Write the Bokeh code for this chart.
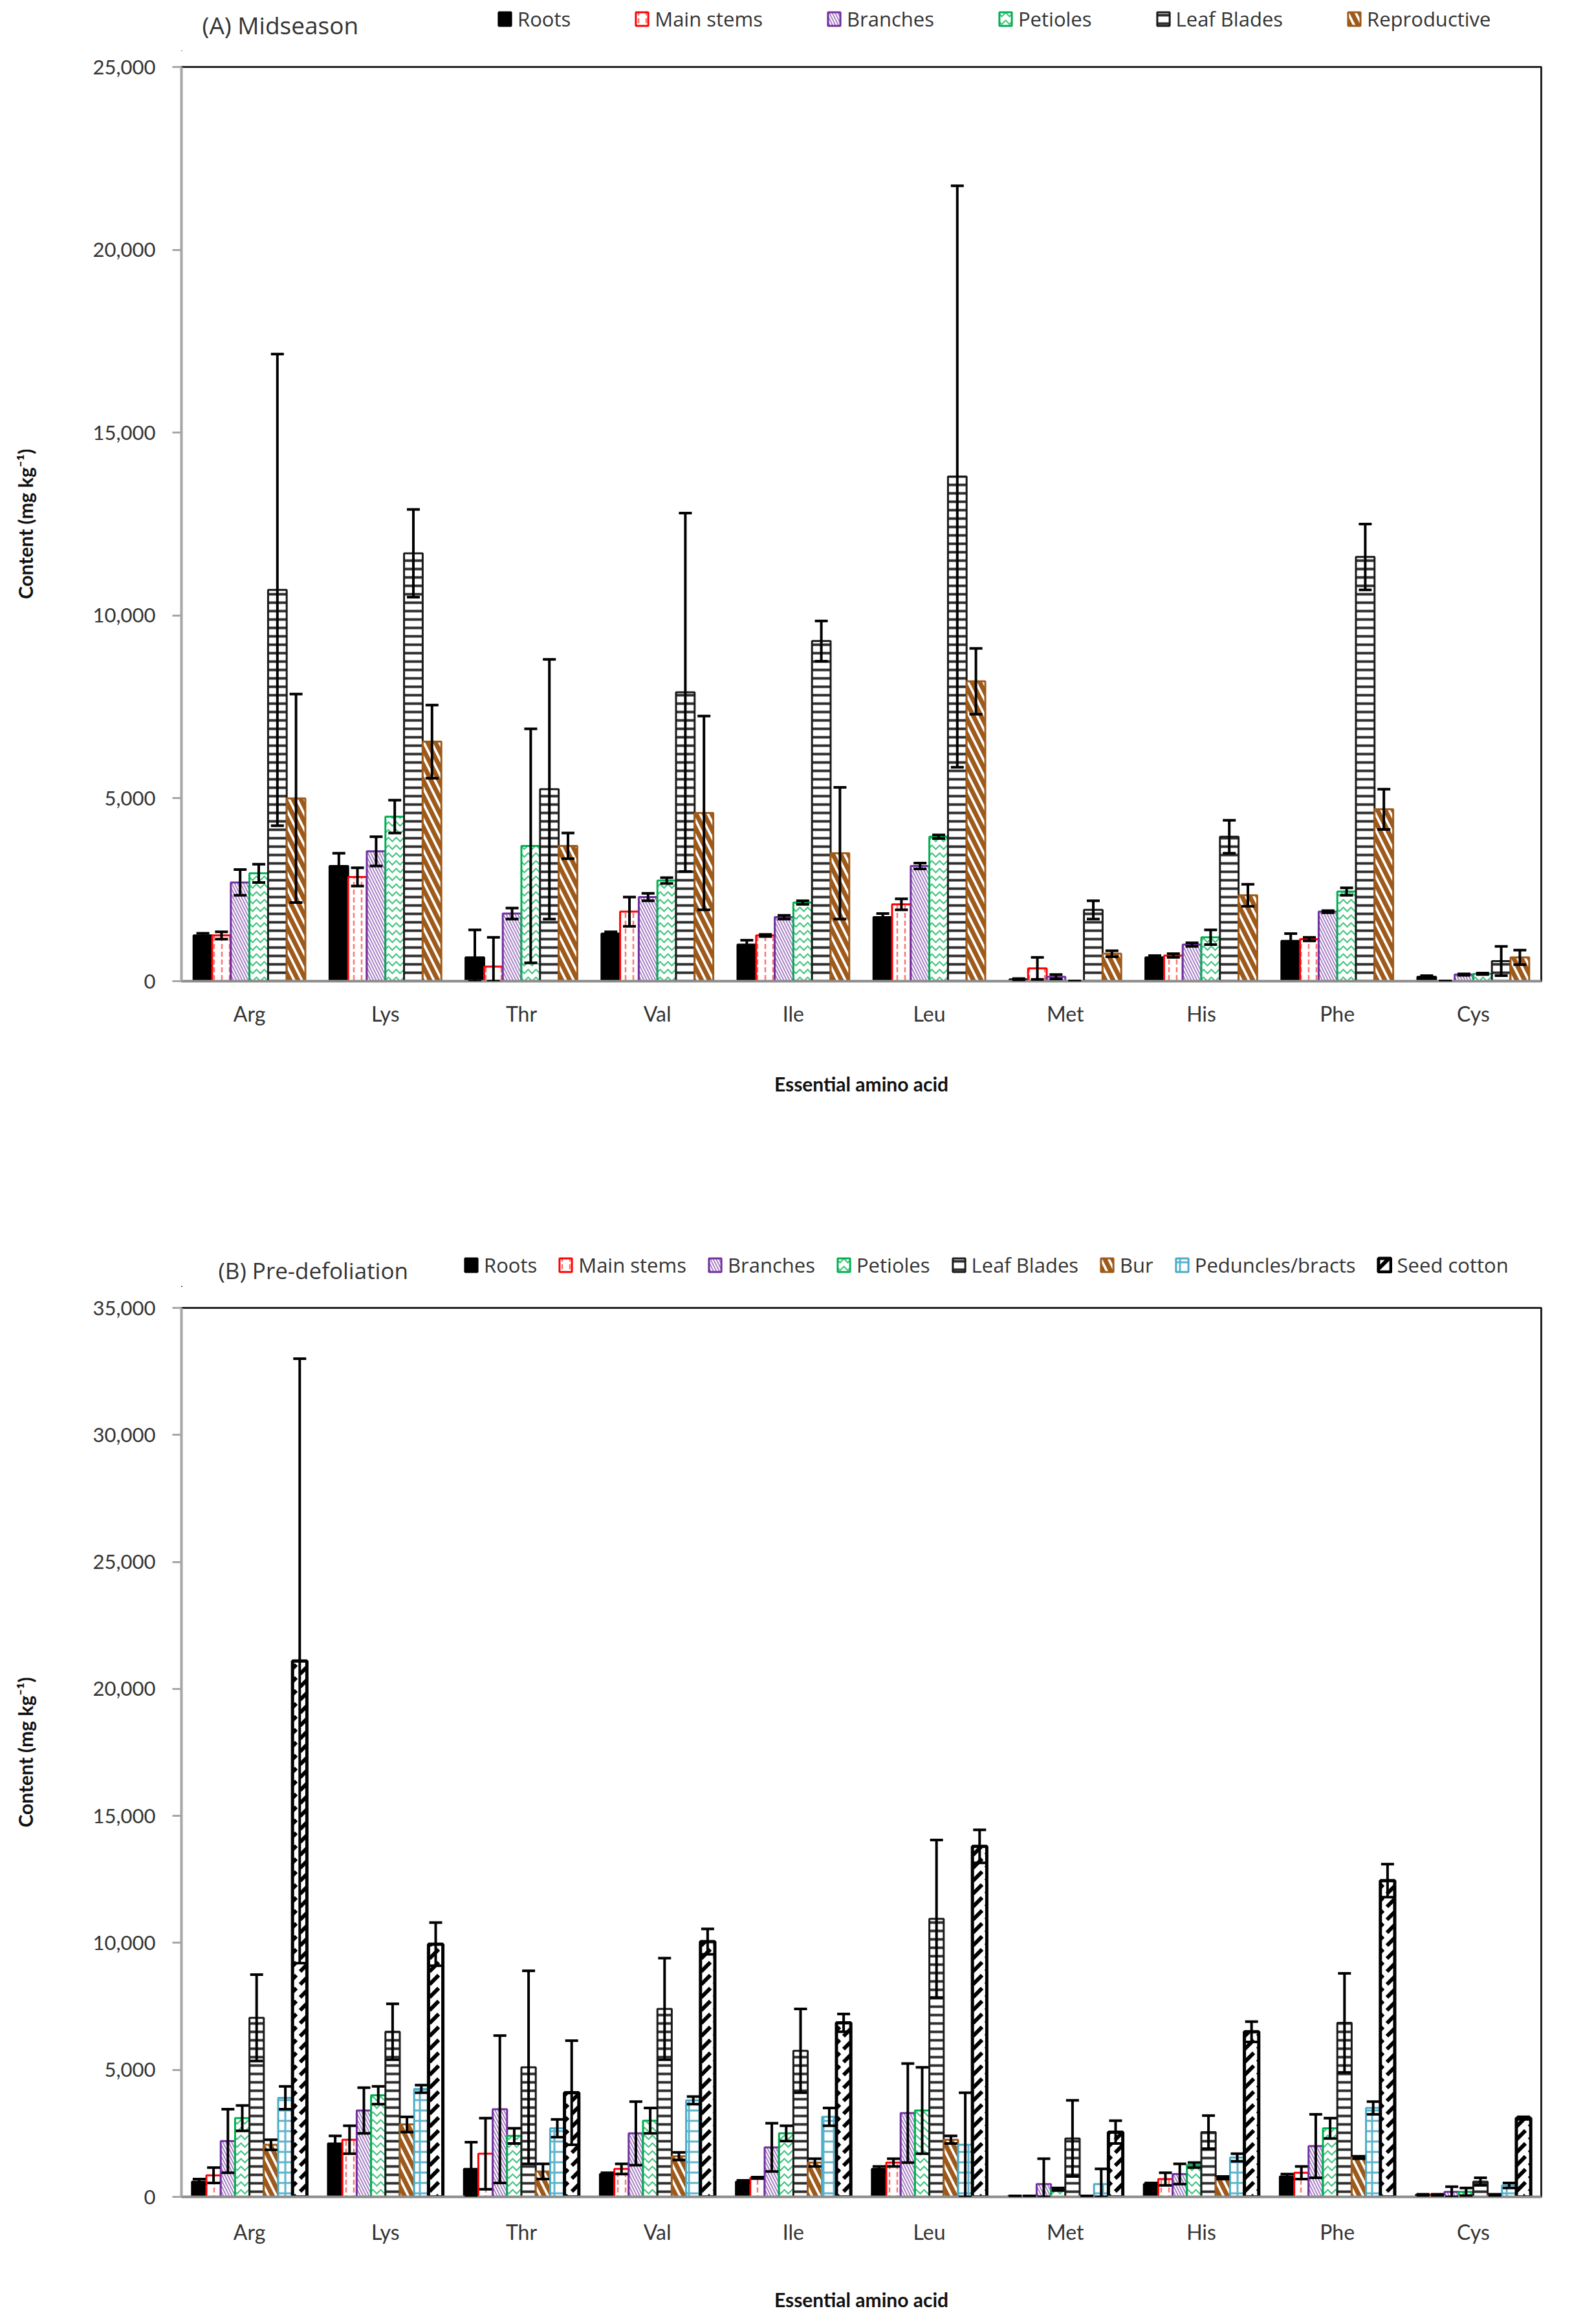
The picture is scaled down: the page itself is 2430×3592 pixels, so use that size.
from bokeh.plotting import figure
from bokeh.models import (FactorRange, Range1d, FixedTicker, NumeralTickFormatter,
                          ColumnDataSource, Whisker, TeeHead, Legend, LegendItem, Label)
from bokeh.transform import dodge
from bokeh.layouts import column
from bokeh.embed import file_html
from bokeh.resources import INLINE

# ---------------- data ----------------
cats = ["Arg", "Lys", "Thr", "Val", "Ile", "Leu", "Met", "His", "Phe", "Cys"]
y_ticks_a = [0, 5000, 10000, 15000, 20000, 25000]
y_ticks_b = [0, 5000, 10000, 15000, 20000, 25000, 30000, 35000]

# (A) Midseason
a_roots = [1250, 3150, 650, 1300, 1000, 1750, 50, 650, 1100, 120]
a_roots_err = [60, 350, 750, 50, 120, 100, 20, 50, 200, 30]
a_stems = [1250, 2850, 400, 1900, 1250, 2100, 350, 700, 1150, 0]
a_stems_err = [100, 250, 800, 400, 30, 150, 300, 50, 50, 0]
a_branches = [2700, 3550, 1850, 2300, 1750, 3150, 120, 1000, 1900, 180]
a_branches_err = [350, 400, 150, 100, 50, 80, 60, 50, 30, 20]
a_petioles = [2950, 4500, 3700, 2750, 2150, 3950, 0, 1200, 2450, 200]
a_petioles_err = [250, 450, 3200, 80, 50, 50, 0, 200, 100, 20]
a_blades = [10700, 11700, 5250, 7900, 9300, 13800, 1950, 3950, 11600, 550]
a_blades_err = [6450, 1200, 3550, 4900, 550, 7950, 250, 450, 900, 400]
a_repro = [5000, 6550, 3700, 4600, 3500, 8200, 750, 2350, 4700, 650]
a_repro_err = [2850, 1000, 350, 2650, 1800, 900, 80, 300, 550, 200]

# (B) Pre-defoliation
b_roots = [600, 2100, 1100, 900, 600, 1100, 30, 500, 800, 80]
b_roots_err = [100, 300, 1050, 50, 50, 100, 10, 50, 100, 20]
b_stems = [850, 2250, 1700, 1100, 750, 1350, 30, 700, 950, 80]
b_stems_err = [300, 550, 1400, 200, 30, 150, 10, 250, 250, 20]
b_branches = [2200, 3400, 3450, 2500, 1950, 3300, 500, 900, 2000, 200]
b_branches_err = [1250, 900, 2900, 1250, 950, 1950, 1000, 400, 1250, 200]
b_petioles = [3100, 4000, 2400, 3000, 2500, 3400, 300, 1250, 2700, 200]
b_petioles_err = [500, 350, 300, 500, 300, 1700, 50, 100, 400, 150]
b_blades = [7050, 6500, 5100, 7400, 5750, 10950, 2300, 2550, 6850, 600]
b_blades_err = [1700, 1100, 3800, 2000, 1650, 3100, 1500, 650, 1950, 150]
b_bur = [2050, 2850, 1000, 1600, 1350, 2250, 30, 750, 1550, 80]
b_bur_err = [200, 300, 300, 150, 150, 150, 10, 50, 50, 20]
b_peduncles = [3900, 4250, 2700, 3800, 3150, 2050, 500, 1550, 3500, 450]
b_peduncles_err = [450, 150, 350, 150, 350, 2050, 600, 150, 250, 100]
b_seed = [21100, 9950, 4100, 10050, 6850, 13800, 2550, 6500, 12450, 3100]
b_seed_err = [11900, 850, 2050, 500, 350, 650, 450, 400, 650, 50]

series_a = [("Roots", a_roots, a_roots_err), ("Main stems", a_stems, a_stems_err),
            ("Branches", a_branches, a_branches_err), ("Petioles", a_petioles, a_petioles_err),
            ("Leaf Blades", a_blades, a_blades_err), ("Reproductive", a_repro, a_repro_err)]
series_b = [("Roots", b_roots, b_roots_err), ("Main stems", b_stems, b_stems_err),
            ("Branches", b_branches, b_branches_err), ("Petioles", b_petioles, b_petioles_err),
            ("Leaf Blades", b_blades, b_blades_err), ("Bur", b_bur, b_bur_err),
            ("Peduncles/bracts", b_peduncles, b_peduncles_err), ("Seed cotton", b_seed, b_seed_err)]

# ---------------- styles ----------------
BROWN = "#9E5A1A"
STYLES = {
    "Roots": dict(fill_color="black", line_color="black", line_width=3),
    "Main stems": dict(fill_color="white", line_color="#FF0000", line_width=3,
                       hatch_pattern="vertical_dash", hatch_color="#FF0000",
                       hatch_alpha=0.55, hatch_scale=12, hatch_weight=2.5),
    "Branches": dict(fill_color="white", line_color="#7030A0", line_width=3,
                     hatch_pattern="left_diagonal_line", hatch_color="#7030A0",
                     hatch_alpha=0.6, hatch_scale=9, hatch_weight=2),
    "Petioles": dict(fill_color="white", line_color="#00B050", line_width=3,
                     hatch_pattern="horizontal_wave", hatch_color="#00B050",
                     hatch_alpha=0.75, hatch_scale=12, hatch_weight=2),
    "Leaf Blades": dict(fill_color="white", line_color="#1A1A1A", line_width=3,
                        hatch_pattern="horizontal_line", hatch_color="#1A1A1A",
                        hatch_alpha=0.9, hatch_scale=13, hatch_weight=4),
    "Reproductive": dict(fill_color="white", line_color=BROWN, line_width=3,
                         hatch_pattern="left_diagonal_line", hatch_color=BROWN,
                         hatch_alpha=1.0, hatch_scale=24, hatch_weight=7),
    "Bur": dict(fill_color="white", line_color=BROWN, line_width=3,
                hatch_pattern="left_diagonal_line", hatch_color=BROWN,
                hatch_alpha=1.0, hatch_scale=24, hatch_weight=7),
    "Peduncles/bracts": dict(fill_color="white", line_color="#4BACC6", line_width=3,
                             hatch_pattern="cross", hatch_color="#4BACC6",
                             hatch_alpha=0.9, hatch_scale=16, hatch_weight=3),
    "Seed cotton": dict(fill_color="white", line_color="black", line_width=5,
                        hatch_pattern="right_diagonal_dash", hatch_color="black",
                        hatch_alpha=1.0, hatch_scale=20, hatch_weight=6),
}

TICK_FONT = "Lato"
LEG_FONT = "Open Sans"
TXT = "#333333"
W = 2414
BL = 280          # left border (frames of stacked plots are aligned by the column)
BR = 32           # right border
FW = W - BL - BR  # frame width


def make_header(series, title, height, leg_x, leg_y, spacing, title_x, title_y, title_size):
    """Legend row with the panel title, drawn as its own strip above the chart."""
    h = figure(width=W, height=height, x_range=Range1d(0, FW), y_range=Range1d(0, height),
               x_axis_location=None, y_axis_location=None, toolbar_location=None,
               output_backend="svg", min_border_left=BL, min_border_right=BR,
               min_border_top=0, min_border_bottom=0)
    h.outline_line_color = None
    h.xgrid.grid_line_color = None
    h.ygrid.grid_line_color = None
    h.background_fill_color = "white"
    h.border_fill_color = "white"
    items = []
    for name, _, _ in series:
        # legend proxy: one bar kept outside the visible strip
        r = h.vbar(x=[-500], top=[-500], bottom=[-600], width=1, **STYLES[name])
        items.append(LegendItem(label=name, renderers=[r]))
    leg = Legend(items=items, orientation="horizontal", location=(leg_x, leg_y),
                 label_text_font=LEG_FONT, label_text_font_size="31px",
                 label_text_color=TXT, glyph_width=24, glyph_height=26,
                 label_height=32, label_standoff=8, spacing=spacing,
                 padding=0, margin=0, border_line_color=None,
                 background_fill_alpha=0)
    h.add_layout(leg, "center")
    h.add_layout(Label(x=title_x, y=title_y, text=title, text_font=LEG_FONT,
                       text_font_size=title_size, text_color=TXT,
                       text_baseline="middle", text_align="left"))
    return h


def make_chart(series, ymax, yticks, height, b_top, b_bottom, bar_w,
               label_standoff, xlabel_standoff):
    p = figure(x_range=FactorRange(factors=cats, range_padding=0),
               y_range=Range1d(0, ymax), width=W, height=height,
               toolbar_location=None, output_backend="svg",
               min_border_left=BL, min_border_right=BR,
               min_border_top=b_top, min_border_bottom=b_bottom)
    p.background_fill_color = "white"
    p.border_fill_color = "white"
    p.xgrid.grid_line_color = None
    p.ygrid.grid_line_color = None
    p.outline_line_color = "#222222"
    p.outline_line_width = 3

    ya = p.yaxis[0]
    ya.ticker = FixedTicker(ticks=yticks)
    ya.formatter = NumeralTickFormatter(format="0,0")
    ya.axis_line_color = "#A6A6A6"
    ya.axis_line_width = 4
    ya.major_tick_line_color = "#A6A6A6"
    ya.major_tick_line_width = 3
    ya.major_tick_out = 14
    ya.major_tick_in = 0
    ya.minor_tick_line_color = None
    ya.major_label_standoff = 26
    ya.major_label_text_font = TICK_FONT
    ya.major_label_text_font_size = "31px"
    ya.major_label_text_color = TXT
    ya.axis_label = "Content (mg kg\u207b\u00b9)"
    ya.axis_label_text_font = TICK_FONT
    ya.axis_label_text_font_style = "bold"
    ya.axis_label_text_font_size = "30px"
    ya.axis_label_text_color = "#111111"
    ya.axis_label_standoff = 84

    xa = p.xaxis[0]
    xa.axis_line_color = "#8C8C8C"
    xa.axis_line_width = 4
    xa.major_tick_line_color = None
    xa.major_tick_out = 0
    xa.major_tick_in = 0
    xa.minor_tick_line_color = None
    xa.major_label_standoff = label_standoff
    xa.major_label_text_font = TICK_FONT
    xa.major_label_text_font_size = "32px"
    xa.major_label_text_color = TXT
    xa.axis_label = "Essential amino acid"
    xa.axis_label_text_font = TICK_FONT
    xa.axis_label_text_font_style = "bold"
    xa.axis_label_text_font_size = "30px"
    xa.axis_label_text_color = "#111111"
    xa.axis_label_standoff = xlabel_standoff

    n = len(series)
    for i, (name, vals, errs) in enumerate(series):
        off = (i - (n - 1) / 2.0) * bar_w
        src = ColumnDataSource(dict(
            cat=cats, top=vals,
            up=[v + e for v, e in zip(vals, errs)],
            lo=[max(v - e, 0) for v, e in zip(vals, errs)]))
        p.vbar(x=dodge("cat", off, range=p.x_range), top="top", bottom=0,
               width=bar_w, source=src, **STYLES[name])
        p.add_layout(Whisker(base=dodge("cat", off, range=p.x_range), upper="up", lower="lo",
                             source=src, line_color="black", line_width=4, level="annotation",
                             upper_head=TeeHead(size=20, line_width=4, line_color="black"),
                             lower_head=TeeHead(size=20, line_width=4, line_color="black")))
    return p


hA = make_header(series_a, "(A) Midseason", 79, 488, 29, 98, 32, 41, "37px")
pA = make_chart(series_a, 25000, y_ticks_a, 1713, 24, 276, 0.137, 30, 68)
hB = make_header(series_b, "(B) Pre-defoliation", 197, 436, 13, 32, 57, 26, "35px")
pB = make_chart(series_b, 35000, y_ticks_b, 1585, 32, 172, 0.1056, 34, 64)

layout = column(hA, pA, hB, pB)
open("out.html", "w").write(file_html(layout, INLINE))
